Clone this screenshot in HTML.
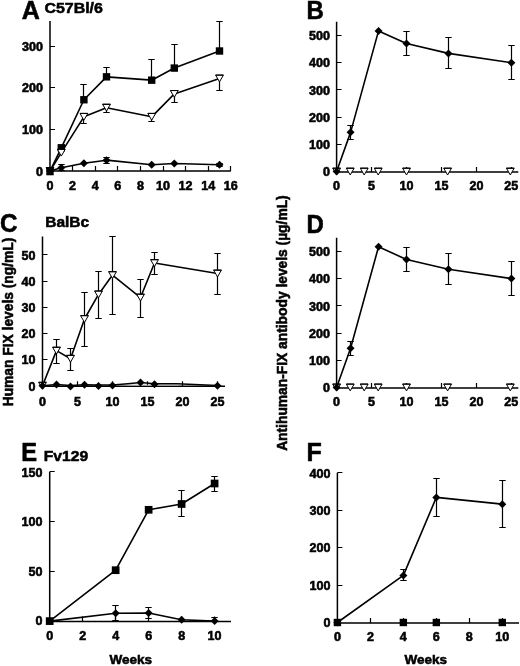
<!DOCTYPE html>
<html><head><meta charset="utf-8"><style>
html,body{margin:0;padding:0;background:#fff;}
body{width:520px;height:666px;overflow:hidden;}
svg{display:block;will-change:transform;}
text{font-family:"Liberation Sans",sans-serif;font-weight:bold;fill:#000;stroke:#000;stroke-width:0.55px;}
</style></head><body>
<svg width="520" height="666" viewBox="0 0 520 666">
<rect width="520" height="666" fill="#fff"/>
<path d="M50 21V171H230.8" fill="none" stroke="#000" stroke-width="1.5"/>
<path d="M72.5 171V166M95.5 171V166M117.5 171V166M140.5 171V166M163.5 171V166M185.5 171V166M208.5 171V166M230.5 171V166M50 129.5H55M50 87.5H55M50 46.5H55" fill="none" stroke="#000" stroke-width="1.2"/>
<text transform="translate(50 189.6) scale(1.03 1)" text-anchor="middle" font-size="12.2">0</text>
<text transform="translate(72.6 189.6) scale(1.03 1)" text-anchor="middle" font-size="12.2">2</text>
<text transform="translate(95.2 189.6) scale(1.03 1)" text-anchor="middle" font-size="12.2">4</text>
<text transform="translate(117.8 189.6) scale(1.03 1)" text-anchor="middle" font-size="12.2">6</text>
<text transform="translate(140.4 189.6) scale(1.03 1)" text-anchor="middle" font-size="12.2">8</text>
<text transform="translate(163 189.6) scale(1.03 1)" text-anchor="middle" font-size="12.2">10</text>
<text transform="translate(185.6 189.6) scale(1.03 1)" text-anchor="middle" font-size="12.2">12</text>
<text transform="translate(208.2 189.6) scale(1.03 1)" text-anchor="middle" font-size="12.2">14</text>
<text transform="translate(230.8 189.6) scale(1.03 1)" text-anchor="middle" font-size="12.2">16</text>
<text transform="translate(43 175.8) scale(1.03 1)" text-anchor="end" font-size="12.2">0</text>
<text transform="translate(43 134.13) scale(1.03 1)" text-anchor="end" font-size="12.2">100</text>
<text transform="translate(43 92.47) scale(1.03 1)" text-anchor="end" font-size="12.2">200</text>
<text transform="translate(43 50.8) scale(1.03 1)" text-anchor="end" font-size="12.2">300</text>
<text x="21.8" y="19.4" font-size="25" text-anchor="start">A</text>
<text transform="translate(44.4 12.6) scale(1.03 1)" font-size="15.5">C57Bl/6</text>
<path d="M50 171 L61.3 167.67 L83.9 163.29 L106.5 160.17 L151.7 164.75 L174.3 163.5 L219.5 164.75" fill="none" stroke="#000" stroke-width="1.6" stroke-linejoin="round"/>
<path d="M61.5 167.67V164.5M58.3 164.5h6.4" fill="none" stroke="#000" stroke-width="1.2"/>
<path d="M61.5 167.67V170.5M58.3 170.5h6.4" fill="none" stroke="#000" stroke-width="1.2"/>
<path d="M106.5 160.17V157.5M103.3 157.5h6.4" fill="none" stroke="#000" stroke-width="1.2"/>
<path d="M106.5 160.17V163.5M103.3 163.5h6.4" fill="none" stroke="#000" stroke-width="1.2"/>
<path d="M219.5 164.75V163.5M216.3 163.5h6.4" fill="none" stroke="#000" stroke-width="1.2"/>
<path d="M219.5 164.75V166.5M216.3 166.5h6.4" fill="none" stroke="#000" stroke-width="1.2"/>
<path d="M50 171 L61.3 152.67 L83.9 116.83 L106.5 107.67 L151.7 116.83 L174.3 93.92 L219.5 78.5" fill="none" stroke="#000" stroke-width="1.6" stroke-linejoin="round"/>
<path d="M83.5 116.83V123.5M80.3 123.5h6.4" fill="none" stroke="#000" stroke-width="1.2"/>
<path d="M106.5 107.67V112.5M103.3 112.5h6.4" fill="none" stroke="#000" stroke-width="1.2"/>
<path d="M151.5 116.83V121.5M148.3 121.5h6.4" fill="none" stroke="#000" stroke-width="1.2"/>
<path d="M174.5 93.92V102.5M171.3 102.5h6.4" fill="none" stroke="#000" stroke-width="1.2"/>
<path d="M219.5 78.5V90.5M216.3 90.5h6.4" fill="none" stroke="#000" stroke-width="1.2"/>
<path d="M50 171 L61.3 147.79 L83.9 99.75 L106.5 76.83 L151.7 80.17 L174.3 68.08 L219.5 51" fill="none" stroke="#000" stroke-width="1.6" stroke-linejoin="round"/>
<path d="M83.5 99.75V84.5M80.3 84.5h6.4" fill="none" stroke="#000" stroke-width="1.2"/>
<path d="M106.5 76.83V67.5M103.3 67.5h6.4" fill="none" stroke="#000" stroke-width="1.2"/>
<path d="M151.5 80.17V59.5M148.3 59.5h6.4" fill="none" stroke="#000" stroke-width="1.2"/>
<path d="M174.5 68.08V44.5M171.3 44.5h6.4" fill="none" stroke="#000" stroke-width="1.2"/>
<path d="M219.5 51V21.5M216.3 21.5h6.4" fill="none" stroke="#000" stroke-width="1.2"/>
<rect x="57.6" y="144.09" width="7.4" height="7.4"/>
<rect x="80.2" y="96.05" width="7.4" height="7.4"/>
<rect x="102.8" y="73.13" width="7.4" height="7.4"/>
<rect x="148" y="76.47" width="7.4" height="7.4"/>
<rect x="170.6" y="64.38" width="7.4" height="7.4"/>
<rect x="215.8" y="47.3" width="7.4" height="7.4"/>
<path d="M46.1 167.6h7.8l-3.9 6.8z" fill="#fff" stroke="#000" stroke-width="1"/>
<path d="M46.1 167.6h7.8" stroke="#000" stroke-width="1.1"/>
<path d="M57.4 149.27h7.8l-3.9 6.8z" fill="#fff" stroke="#000" stroke-width="1"/>
<path d="M57.4 149.27h7.8" stroke="#000" stroke-width="1.1"/>
<path d="M80 113.43h7.8l-3.9 6.8z" fill="#fff" stroke="#000" stroke-width="1"/>
<path d="M80 113.43h7.8" stroke="#000" stroke-width="1.1"/>
<path d="M102.6 104.27h7.8l-3.9 6.8z" fill="#fff" stroke="#000" stroke-width="1"/>
<path d="M102.6 104.27h7.8" stroke="#000" stroke-width="1.1"/>
<path d="M147.8 113.43h7.8l-3.9 6.8z" fill="#fff" stroke="#000" stroke-width="1"/>
<path d="M147.8 113.43h7.8" stroke="#000" stroke-width="1.1"/>
<path d="M170.4 90.52h7.8l-3.9 6.8z" fill="#fff" stroke="#000" stroke-width="1"/>
<path d="M170.4 90.52h7.8" stroke="#000" stroke-width="1.1"/>
<path d="M215.6 75.1h7.8l-3.9 6.8z" fill="#fff" stroke="#000" stroke-width="1"/>
<path d="M215.6 75.1h7.8" stroke="#000" stroke-width="1.1"/>
<path d="M50 167l4 4l-4 4l-4 -4z"/>
<path d="M61.3 163.67l4 4l-4 4l-4 -4z"/>
<path d="M83.9 159.29l4 4l-4 4l-4 -4z"/>
<path d="M106.5 156.17l4 4l-4 4l-4 -4z"/>
<path d="M151.7 160.75l4 4l-4 4l-4 -4z"/>
<path d="M174.3 159.5l4 4l-4 4l-4 -4z"/>
<path d="M219.5 160.75l4 4l-4 4l-4 -4z"/>
<rect x="46.3" y="167.88" width="7.4" height="7.4"/>
<path d="M336.6 21.8V172H518.3" fill="none" stroke="#000" stroke-width="1.5"/>
<path d="M371.5 172V167M406.5 172V167M441.5 172V167M476.5 172V167M511.5 172V167M336.6 144.5H341.6M336.6 117.5H341.6M336.6 89.5H341.6M336.6 62.5H341.6M336.6 35.5H341.6" fill="none" stroke="#000" stroke-width="1.2"/>
<text transform="translate(336.6 190.3) scale(1.03 1)" text-anchor="middle" font-size="12.2">0</text>
<text transform="translate(371.55 190.3) scale(1.03 1)" text-anchor="middle" font-size="12.2">5</text>
<text transform="translate(406.5 190.3) scale(1.03 1)" text-anchor="middle" font-size="12.2">10</text>
<text transform="translate(441.45 190.3) scale(1.03 1)" text-anchor="middle" font-size="12.2">15</text>
<text transform="translate(476.4 190.3) scale(1.03 1)" text-anchor="middle" font-size="12.2">20</text>
<text transform="translate(511.35 190.3) scale(1.03 1)" text-anchor="middle" font-size="12.2">25</text>
<text transform="translate(330 176.4) scale(1.03 1)" text-anchor="end" font-size="12.2">0</text>
<text transform="translate(330 149.16) scale(1.03 1)" text-anchor="end" font-size="12.2">100</text>
<text transform="translate(330 121.92) scale(1.03 1)" text-anchor="end" font-size="12.2">200</text>
<text transform="translate(330 94.68) scale(1.03 1)" text-anchor="end" font-size="12.2">300</text>
<text transform="translate(330 67.44) scale(1.03 1)" text-anchor="end" font-size="12.2">400</text>
<text transform="translate(330 40.2) scale(1.03 1)" text-anchor="end" font-size="12.2">500</text>
<text transform="translate(306.5 19.3) scale(0.96 1)" font-size="25">B</text>
<path d="M332.7 168.2h7.8l-3.9 6.8z" fill="#fff" stroke="#000" stroke-width="1"/>
<path d="M332.7 168.2h7.8" stroke="#000" stroke-width="1.1"/>
<path d="M346.33 168.2h7.8l-3.9 6.8z" fill="#fff" stroke="#000" stroke-width="1"/>
<path d="M346.33 168.2h7.8" stroke="#000" stroke-width="1.1"/>
<path d="M360.31 168.2h7.8l-3.9 6.8z" fill="#fff" stroke="#000" stroke-width="1"/>
<path d="M360.31 168.2h7.8" stroke="#000" stroke-width="1.1"/>
<path d="M374.29 168.2h7.8l-3.9 6.8z" fill="#fff" stroke="#000" stroke-width="1"/>
<path d="M374.29 168.2h7.8" stroke="#000" stroke-width="1.1"/>
<path d="M402.6 168.2h7.8l-3.9 6.8z" fill="#fff" stroke="#000" stroke-width="1"/>
<path d="M402.6 168.2h7.8" stroke="#000" stroke-width="1.1"/>
<path d="M443.7 168.2h7.8l-3.9 6.8z" fill="#fff" stroke="#000" stroke-width="1"/>
<path d="M443.7 168.2h7.8" stroke="#000" stroke-width="1.1"/>
<path d="M506.4 168.2h7.8l-3.9 6.8z" fill="#fff" stroke="#000" stroke-width="1"/>
<path d="M506.4 168.2h7.8" stroke="#000" stroke-width="1.1"/>
<path d="M336.6 171.6 L350.58 132.37 L378.54 30.91 L406.5 43.57 L448.44 53.38 L511.35 62.64" fill="none" stroke="#000" stroke-width="1.6" stroke-linejoin="round"/>
<path d="M350.5 132.37V125.5M347.3 125.5h6.4" fill="none" stroke="#000" stroke-width="1.2"/>
<path d="M350.5 132.37V139.5M347.3 139.5h6.4" fill="none" stroke="#000" stroke-width="1.2"/>
<path d="M406.5 43.57V31.5M403.3 31.5h6.4" fill="none" stroke="#000" stroke-width="1.2"/>
<path d="M406.5 43.57V55.5M403.3 55.5h6.4" fill="none" stroke="#000" stroke-width="1.2"/>
<path d="M448.5 53.38V37.5M445.3 37.5h6.4" fill="none" stroke="#000" stroke-width="1.2"/>
<path d="M448.5 53.38V68.5M445.3 68.5h6.4" fill="none" stroke="#000" stroke-width="1.2"/>
<path d="M511.5 62.64V45.5M508.3 45.5h6.4" fill="none" stroke="#000" stroke-width="1.2"/>
<path d="M511.5 62.64V79.5M508.3 79.5h6.4" fill="none" stroke="#000" stroke-width="1.2"/>
<path d="M336.6 167.6l4 4l-4 4l-4 -4z"/>
<path d="M350.58 128.37l4 4l-4 4l-4 -4z"/>
<path d="M378.54 26.91l4 4l-4 4l-4 -4z"/>
<path d="M406.5 39.57l4 4l-4 4l-4 -4z"/>
<path d="M448.44 49.38l4 4l-4 4l-4 -4z"/>
<path d="M511.35 58.64l4 4l-4 4l-4 -4z"/>
<path d="M336.6 237.7V387.9H518.3" fill="none" stroke="#000" stroke-width="1.5"/>
<path d="M371.5 387.9V382.9M406.5 387.9V382.9M441.5 387.9V382.9M476.5 387.9V382.9M511.5 387.9V382.9M336.6 360.5H341.6M336.6 333.5H341.6M336.6 305.5H341.6M336.6 278.5H341.6M336.6 251.5H341.6" fill="none" stroke="#000" stroke-width="1.2"/>
<text transform="translate(336.6 406.2) scale(1.03 1)" text-anchor="middle" font-size="12.2">0</text>
<text transform="translate(371.55 406.2) scale(1.03 1)" text-anchor="middle" font-size="12.2">5</text>
<text transform="translate(406.5 406.2) scale(1.03 1)" text-anchor="middle" font-size="12.2">10</text>
<text transform="translate(441.45 406.2) scale(1.03 1)" text-anchor="middle" font-size="12.2">15</text>
<text transform="translate(476.4 406.2) scale(1.03 1)" text-anchor="middle" font-size="12.2">20</text>
<text transform="translate(511.35 406.2) scale(1.03 1)" text-anchor="middle" font-size="12.2">25</text>
<text transform="translate(330 392.3) scale(1.03 1)" text-anchor="end" font-size="12.2">0</text>
<text transform="translate(330 365.06) scale(1.03 1)" text-anchor="end" font-size="12.2">100</text>
<text transform="translate(330 337.82) scale(1.03 1)" text-anchor="end" font-size="12.2">200</text>
<text transform="translate(330 310.58) scale(1.03 1)" text-anchor="end" font-size="12.2">300</text>
<text transform="translate(330 283.34) scale(1.03 1)" text-anchor="end" font-size="12.2">400</text>
<text transform="translate(330 256.1) scale(1.03 1)" text-anchor="end" font-size="12.2">500</text>
<text transform="translate(306.5 232.9) scale(0.96 1)" font-size="25">D</text>
<path d="M332.7 384.1h7.8l-3.9 6.8z" fill="#fff" stroke="#000" stroke-width="1"/>
<path d="M332.7 384.1h7.8" stroke="#000" stroke-width="1.1"/>
<path d="M346.33 384.1h7.8l-3.9 6.8z" fill="#fff" stroke="#000" stroke-width="1"/>
<path d="M346.33 384.1h7.8" stroke="#000" stroke-width="1.1"/>
<path d="M360.31 384.1h7.8l-3.9 6.8z" fill="#fff" stroke="#000" stroke-width="1"/>
<path d="M360.31 384.1h7.8" stroke="#000" stroke-width="1.1"/>
<path d="M374.29 384.1h7.8l-3.9 6.8z" fill="#fff" stroke="#000" stroke-width="1"/>
<path d="M374.29 384.1h7.8" stroke="#000" stroke-width="1.1"/>
<path d="M402.6 384.1h7.8l-3.9 6.8z" fill="#fff" stroke="#000" stroke-width="1"/>
<path d="M402.6 384.1h7.8" stroke="#000" stroke-width="1.1"/>
<path d="M443.7 384.1h7.8l-3.9 6.8z" fill="#fff" stroke="#000" stroke-width="1"/>
<path d="M443.7 384.1h7.8" stroke="#000" stroke-width="1.1"/>
<path d="M506.4 384.1h7.8l-3.9 6.8z" fill="#fff" stroke="#000" stroke-width="1"/>
<path d="M506.4 384.1h7.8" stroke="#000" stroke-width="1.1"/>
<path d="M336.6 387.5 L350.58 348.27 L378.54 246.81 L406.5 259.47 L448.44 269.28 L511.35 278.54" fill="none" stroke="#000" stroke-width="1.6" stroke-linejoin="round"/>
<path d="M350.5 348.27V341.5M347.3 341.5h6.4" fill="none" stroke="#000" stroke-width="1.2"/>
<path d="M350.5 348.27V355.5M347.3 355.5h6.4" fill="none" stroke="#000" stroke-width="1.2"/>
<path d="M406.5 259.47V247.5M403.3 247.5h6.4" fill="none" stroke="#000" stroke-width="1.2"/>
<path d="M406.5 259.47V271.5M403.3 271.5h6.4" fill="none" stroke="#000" stroke-width="1.2"/>
<path d="M448.5 269.28V253.5M445.3 253.5h6.4" fill="none" stroke="#000" stroke-width="1.2"/>
<path d="M448.5 269.28V284.5M445.3 284.5h6.4" fill="none" stroke="#000" stroke-width="1.2"/>
<path d="M511.5 278.54V261.5M508.3 261.5h6.4" fill="none" stroke="#000" stroke-width="1.2"/>
<path d="M511.5 278.54V295.5M508.3 295.5h6.4" fill="none" stroke="#000" stroke-width="1.2"/>
<path d="M336.6 383.5l4 4l-4 4l-4 -4z"/>
<path d="M350.58 344.27l4 4l-4 4l-4 -4z"/>
<path d="M378.54 242.81l4 4l-4 4l-4 -4z"/>
<path d="M406.5 255.47l4 4l-4 4l-4 -4z"/>
<path d="M448.44 265.28l4 4l-4 4l-4 -4z"/>
<path d="M511.35 274.54l4 4l-4 4l-4 -4z"/>
<path d="M42.5 236.6V386.3H225" fill="none" stroke="#000" stroke-width="1.5"/>
<path d="M77.5 386.3V381.3M112.5 386.3V381.3M147.5 386.3V381.3M182.5 386.3V381.3M217.5 386.3V381.3M42.5 359.5H47.5M42.5 333.5H47.5M42.5 307.5H47.5M42.5 281.5H47.5M42.5 254.5H47.5" fill="none" stroke="#000" stroke-width="1.2"/>
<text transform="translate(42.5 405.5) scale(1.03 1)" text-anchor="middle" font-size="12.2">0</text>
<text transform="translate(77.5 405.5) scale(1.03 1)" text-anchor="middle" font-size="12.2">5</text>
<text transform="translate(112.5 405.5) scale(1.03 1)" text-anchor="middle" font-size="12.2">10</text>
<text transform="translate(147.5 405.5) scale(1.03 1)" text-anchor="middle" font-size="12.2">15</text>
<text transform="translate(182.5 405.5) scale(1.03 1)" text-anchor="middle" font-size="12.2">20</text>
<text transform="translate(217.5 405.5) scale(1.03 1)" text-anchor="middle" font-size="12.2">25</text>
<text transform="translate(35.5 390.5) scale(1.03 1)" text-anchor="end" font-size="12.2">0</text>
<text transform="translate(35.5 364.35) scale(1.03 1)" text-anchor="end" font-size="12.2">10</text>
<text transform="translate(35.5 338.2) scale(1.03 1)" text-anchor="end" font-size="12.2">20</text>
<text transform="translate(35.5 312.05) scale(1.03 1)" text-anchor="end" font-size="12.2">30</text>
<text transform="translate(35.5 285.9) scale(1.03 1)" text-anchor="end" font-size="12.2">40</text>
<text transform="translate(35.5 259.75) scale(1.03 1)" text-anchor="end" font-size="12.2">50</text>
<text transform="translate(0 232.1) scale(0.94 1)" font-size="25.8">C</text>
<text x="45.2" y="226.5" font-size="15.5" text-anchor="start">BalBc</text>
<path d="M42.5 385.7 L56.5 350.66 L70.5 358.77 L84.5 319.02 L98.5 294.44 L112.5 275.09 L140.5 297.57 L154.5 263.06 L217.5 273.52" fill="none" stroke="#000" stroke-width="1.6" stroke-linejoin="round"/>
<path d="M56.5 350.66V339.5M53.3 339.5h6.4" fill="none" stroke="#000" stroke-width="1.2"/>
<path d="M56.5 350.66V363.5M53.3 363.5h6.4" fill="none" stroke="#000" stroke-width="1.2"/>
<path d="M70.5 358.77V348.5M67.3 348.5h6.4" fill="none" stroke="#000" stroke-width="1.2"/>
<path d="M70.5 358.77V370.5M67.3 370.5h6.4" fill="none" stroke="#000" stroke-width="1.2"/>
<path d="M84.5 319.02V292.5M81.3 292.5h6.4" fill="none" stroke="#000" stroke-width="1.2"/>
<path d="M84.5 319.02V346.5M81.3 346.5h6.4" fill="none" stroke="#000" stroke-width="1.2"/>
<path d="M98.5 294.44V271.5M95.3 271.5h6.4" fill="none" stroke="#000" stroke-width="1.2"/>
<path d="M98.5 294.44V318.5M95.3 318.5h6.4" fill="none" stroke="#000" stroke-width="1.2"/>
<path d="M112.5 275.09V236.5M109.3 236.5h6.4" fill="none" stroke="#000" stroke-width="1.2"/>
<path d="M112.5 275.09V314.5M109.3 314.5h6.4" fill="none" stroke="#000" stroke-width="1.2"/>
<path d="M140.5 297.57V279.5M137.3 279.5h6.4" fill="none" stroke="#000" stroke-width="1.2"/>
<path d="M140.5 297.57V317.5M137.3 317.5h6.4" fill="none" stroke="#000" stroke-width="1.2"/>
<path d="M154.5 263.06V252.5M151.3 252.5h6.4" fill="none" stroke="#000" stroke-width="1.2"/>
<path d="M154.5 263.06V274.5M151.3 274.5h6.4" fill="none" stroke="#000" stroke-width="1.2"/>
<path d="M217.5 273.52V253.5M214.3 253.5h6.4" fill="none" stroke="#000" stroke-width="1.2"/>
<path d="M217.5 273.52V294.5M214.3 294.5h6.4" fill="none" stroke="#000" stroke-width="1.2"/>
<path d="M38.6 382.3h7.8l-3.9 6.8z" fill="#fff" stroke="#000" stroke-width="1"/>
<path d="M38.6 382.3h7.8" stroke="#000" stroke-width="1.1"/>
<path d="M52.6 347.26h7.8l-3.9 6.8z" fill="#fff" stroke="#000" stroke-width="1"/>
<path d="M52.6 347.26h7.8" stroke="#000" stroke-width="1.1"/>
<path d="M66.6 355.37h7.8l-3.9 6.8z" fill="#fff" stroke="#000" stroke-width="1"/>
<path d="M66.6 355.37h7.8" stroke="#000" stroke-width="1.1"/>
<path d="M80.6 315.62h7.8l-3.9 6.8z" fill="#fff" stroke="#000" stroke-width="1"/>
<path d="M80.6 315.62h7.8" stroke="#000" stroke-width="1.1"/>
<path d="M94.6 291.04h7.8l-3.9 6.8z" fill="#fff" stroke="#000" stroke-width="1"/>
<path d="M94.6 291.04h7.8" stroke="#000" stroke-width="1.1"/>
<path d="M108.6 271.69h7.8l-3.9 6.8z" fill="#fff" stroke="#000" stroke-width="1"/>
<path d="M108.6 271.69h7.8" stroke="#000" stroke-width="1.1"/>
<path d="M136.6 294.17h7.8l-3.9 6.8z" fill="#fff" stroke="#000" stroke-width="1"/>
<path d="M136.6 294.17h7.8" stroke="#000" stroke-width="1.1"/>
<path d="M150.6 259.66h7.8l-3.9 6.8z" fill="#fff" stroke="#000" stroke-width="1"/>
<path d="M150.6 259.66h7.8" stroke="#000" stroke-width="1.1"/>
<path d="M213.6 270.12h7.8l-3.9 6.8z" fill="#fff" stroke="#000" stroke-width="1"/>
<path d="M213.6 270.12h7.8" stroke="#000" stroke-width="1.1"/>
<rect x="127" y="384.7" width="51" height="1.2" fill="#a0a0a0"/>
<path d="M42.5 385.7 L56.5 384.39 L70.5 385.44 L84.5 384.65 L98.5 384.92 L112.5 384.92 L127.9 383.74 L140.5 382.56 L154.5 383.74 L176.9 383.87 L217.5 385.44" fill="none" stroke="#000" stroke-width="1.5" stroke-linejoin="round"/>
<path d="M42.5 381.7l4 4l-4 4l-4 -4z"/>
<path d="M56.5 380.39l4 4l-4 4l-4 -4z"/>
<path d="M70.5 382.48l4 4l-4 4l-4 -4z"/>
<path d="M84.5 380.65l4 4l-4 4l-4 -4z"/>
<path d="M98.5 382.09l4 4l-4 4l-4 -4z"/>
<path d="M112.5 381.44l4 4l-4 4l-4 -4z"/>
<path d="M140.5 378.56l4 4l-4 4l-4 -4z"/>
<path d="M154.5 380.13l4 4l-4 4l-4 -4z"/>
<path d="M217.5 381.7l4 4l-4 4l-4 -4z"/>
<text transform="translate(12.6 322) rotate(-90)" text-anchor="middle" font-size="13.8">Human FIX levels (ng/mL)</text>
<text transform="translate(286.6 323.1) rotate(-90)" text-anchor="middle" font-size="13.8">Antihuman-FIX antibody levels (&#181;g/mL)</text>
<path d="M49.7 471.7V621.6H231" fill="none" stroke="#000" stroke-width="1.5"/>
<path d="M82.5 621.6V616.6M115.5 621.6V616.6M148.5 621.6V616.6M181.5 621.6V616.6M214.5 621.6V616.6M49.7 571.5H54.7M49.7 521.5H54.7M49.7 471.5H54.7" fill="none" stroke="#000" stroke-width="1.2"/>
<text transform="translate(49.7 639.5) scale(1.03 1)" text-anchor="middle" font-size="12.2">0</text>
<text transform="translate(82.68 639.5) scale(1.03 1)" text-anchor="middle" font-size="12.2">2</text>
<text transform="translate(115.66 639.5) scale(1.03 1)" text-anchor="middle" font-size="12.2">4</text>
<text transform="translate(148.64 639.5) scale(1.03 1)" text-anchor="middle" font-size="12.2">6</text>
<text transform="translate(181.62 639.5) scale(1.03 1)" text-anchor="middle" font-size="12.2">8</text>
<text transform="translate(214.6 639.5) scale(1.03 1)" text-anchor="middle" font-size="12.2">10</text>
<text transform="translate(42.5 625.4) scale(1.03 1)" text-anchor="end" font-size="12.2">0</text>
<text transform="translate(42.5 575.6) scale(1.03 1)" text-anchor="end" font-size="12.2">50</text>
<text transform="translate(42.5 525.8) scale(1.03 1)" text-anchor="end" font-size="12.2">100</text>
<text transform="translate(42.5 477) scale(1.03 1)" text-anchor="end" font-size="12.2">150</text>
<text transform="translate(21.2 460.7) scale(0.95 1)" font-size="25">E</text>
<text transform="translate(43.8 460.8) scale(1.03 1)" font-size="15.2">Fv129</text>
<text x="130.7" y="663.8" font-size="13.5" text-anchor="middle">Weeks</text>
<path d="M49.7 621.1 L115.66 613.2 L148.64 613 L181.62 619.8 L214.6 621.1" fill="none" stroke="#000" stroke-width="1.6" stroke-linejoin="round"/>
<path d="M115.5 613.2V605.5M112.3 605.5h6.4" fill="none" stroke="#000" stroke-width="1.2"/>
<path d="M115.5 613.2V620.5M112.3 620.5h6.4" fill="none" stroke="#000" stroke-width="1.2"/>
<path d="M148.5 613V607.5M145.3 607.5h6.4" fill="none" stroke="#000" stroke-width="1.2"/>
<path d="M148.5 613V618.5M145.3 618.5h6.4" fill="none" stroke="#000" stroke-width="1.2"/>
<path d="M214.5 621.1V617.5M211.3 617.5h6.4" fill="none" stroke="#000" stroke-width="1.2"/>
<path d="M49.7 617.1l4 4l-4 4l-4 -4z"/>
<path d="M115.66 609.2l4 4l-4 4l-4 -4z"/>
<path d="M148.64 609l4 4l-4 4l-4 -4z"/>
<path d="M181.62 615.8l4 4l-4 4l-4 -4z"/>
<path d="M214.6 617.1l4 4l-4 4l-4 -4z"/>
<path d="M49.7 621.1 L115.66 570.2 L148.64 509.8 L181.62 504 L214.6 483.5" fill="none" stroke="#000" stroke-width="1.6" stroke-linejoin="round"/>
<path d="M181.5 504V490.5M178.3 490.5h6.4" fill="none" stroke="#000" stroke-width="1.2"/>
<path d="M181.5 504V516.5M178.3 516.5h6.4" fill="none" stroke="#000" stroke-width="1.2"/>
<path d="M214.5 483.5V476.5M211.3 476.5h6.4" fill="none" stroke="#000" stroke-width="1.2"/>
<path d="M214.5 483.5V491.5M211.3 491.5h6.4" fill="none" stroke="#000" stroke-width="1.2"/>
<rect x="45.85" y="617.25" width="7.7" height="7.7"/>
<rect x="111.81" y="566.35" width="7.7" height="7.7"/>
<rect x="144.79" y="505.95" width="7.7" height="7.7"/>
<rect x="177.77" y="500.15" width="7.7" height="7.7"/>
<rect x="210.75" y="479.65" width="7.7" height="7.7"/>
<path d="M337.4 472.7V623H519" fill="none" stroke="#000" stroke-width="1.5"/>
<path d="M370.5 623V618M403.5 623V618M436.5 623V618M469.5 623V618M502.5 623V618M337.4 585.5H342.4M337.4 547.5H342.4M337.4 510.5H342.4M337.4 472.5H342.4" fill="none" stroke="#000" stroke-width="1.2"/>
<text transform="translate(337.4 641.1) scale(1.03 1)" text-anchor="middle" font-size="12.2">0</text>
<text transform="translate(370.38 641.1) scale(1.03 1)" text-anchor="middle" font-size="12.2">2</text>
<text transform="translate(403.36 641.1) scale(1.03 1)" text-anchor="middle" font-size="12.2">4</text>
<text transform="translate(436.34 641.1) scale(1.03 1)" text-anchor="middle" font-size="12.2">6</text>
<text transform="translate(469.32 641.1) scale(1.03 1)" text-anchor="middle" font-size="12.2">8</text>
<text transform="translate(502.3 641.1) scale(1.03 1)" text-anchor="middle" font-size="12.2">10</text>
<text transform="translate(330.5 627.3) scale(1.03 1)" text-anchor="end" font-size="12.2">0</text>
<text transform="translate(330.5 589.85) scale(1.03 1)" text-anchor="end" font-size="12.2">100</text>
<text transform="translate(330.5 552.4) scale(1.03 1)" text-anchor="end" font-size="12.2">200</text>
<text transform="translate(330.5 514.95) scale(1.03 1)" text-anchor="end" font-size="12.2">300</text>
<text transform="translate(330.5 477.5) scale(1.03 1)" text-anchor="end" font-size="12.2">400</text>
<text x="306.5" y="461" font-size="25" text-anchor="start">F</text>
<text x="425.7" y="664.3" font-size="13.5" text-anchor="middle">Weeks</text>
<path d="M337.4 622.5 L403.36 575.43 L436.34 497.42 L502.3 504.16" fill="none" stroke="#000" stroke-width="1.6" stroke-linejoin="round"/>
<path d="M403.5 575.43V569.5M400.3 569.5h6.4" fill="none" stroke="#000" stroke-width="1.2"/>
<path d="M403.5 575.43V580.5M400.3 580.5h6.4" fill="none" stroke="#000" stroke-width="1.2"/>
<path d="M436.5 497.42V478.5M433.3 478.5h6.4" fill="none" stroke="#000" stroke-width="1.2"/>
<path d="M436.5 497.42V516.5M433.3 516.5h6.4" fill="none" stroke="#000" stroke-width="1.2"/>
<path d="M502.5 504.16V480.5M499.3 480.5h6.4" fill="none" stroke="#000" stroke-width="1.2"/>
<path d="M502.5 504.16V527.5M499.3 527.5h6.4" fill="none" stroke="#000" stroke-width="1.2"/>
<path d="M337.4 618.5l4 4l-4 4l-4 -4z"/>
<path d="M403.36 571.43l4 4l-4 4l-4 -4z"/>
<path d="M436.34 493.42l4 4l-4 4l-4 -4z"/>
<path d="M502.3 500.16l4 4l-4 4l-4 -4z"/>
<rect x="333.7" y="618.8" width="7.4" height="7.4"/>
<rect x="399.66" y="618.8" width="7.4" height="7.4"/>
<rect x="432.64" y="618.8" width="7.4" height="7.4"/>
<rect x="498.6" y="618.8" width="7.4" height="7.4"/>
</svg>
</body></html>
